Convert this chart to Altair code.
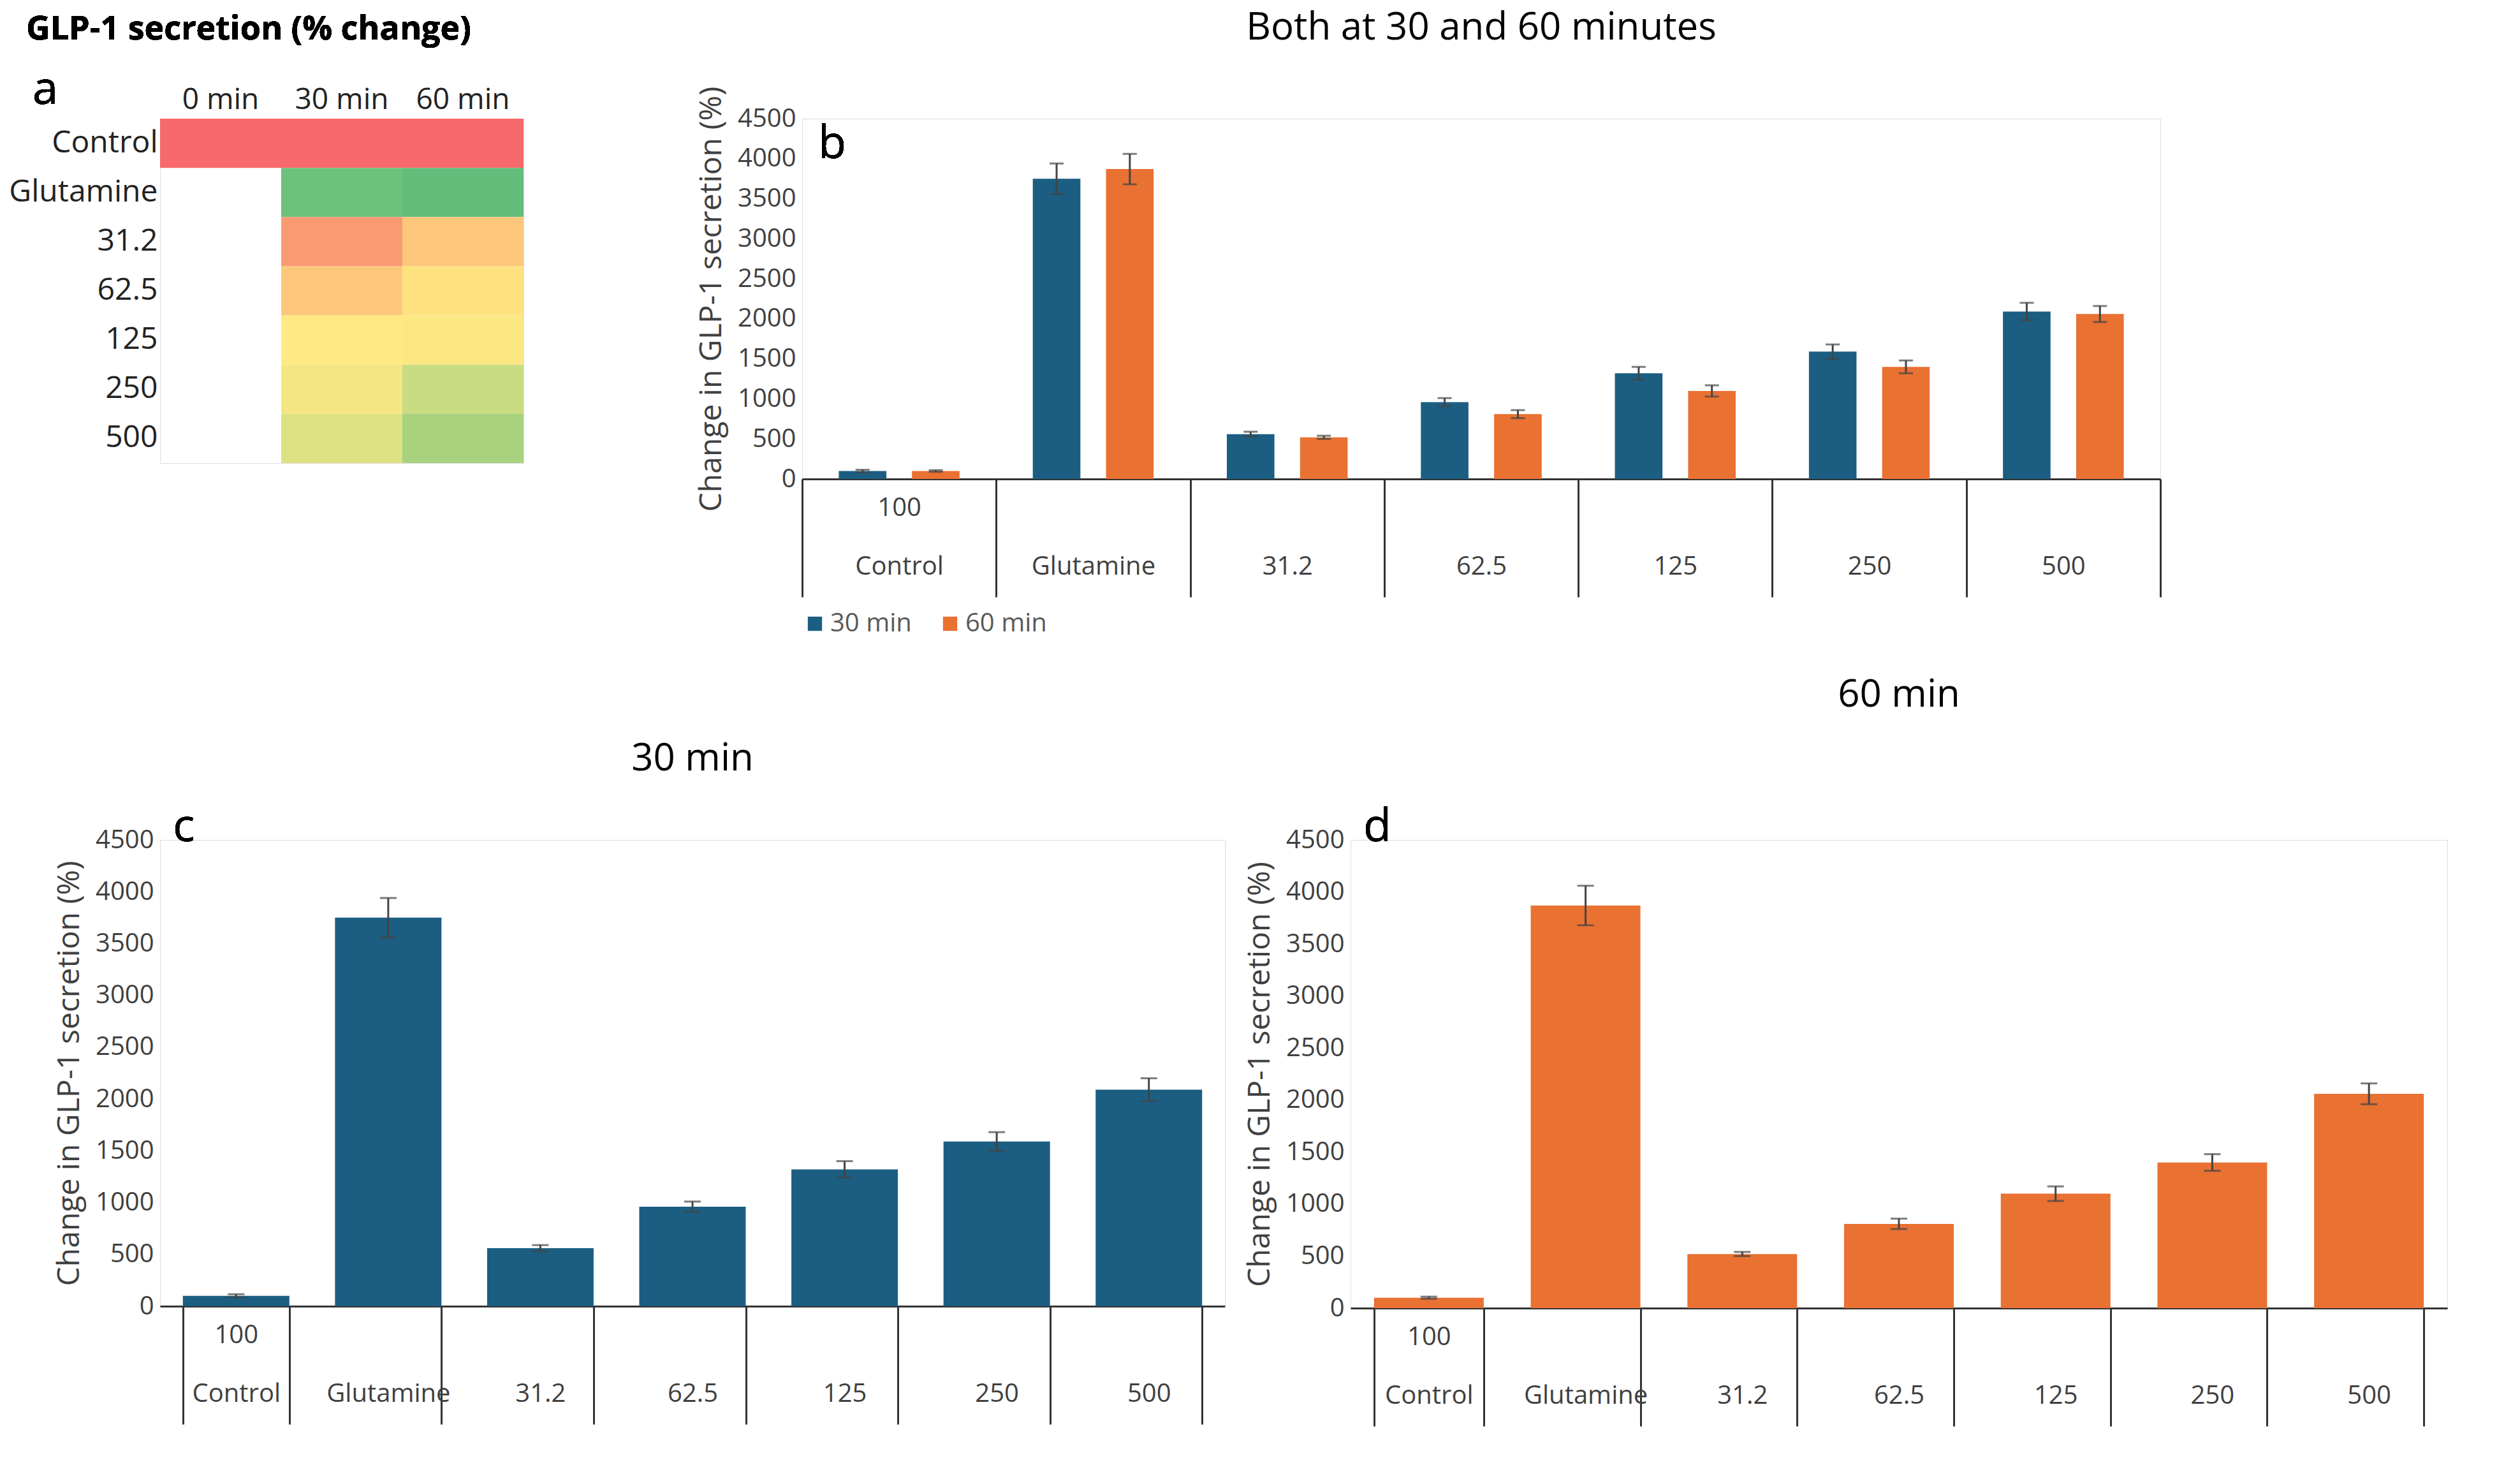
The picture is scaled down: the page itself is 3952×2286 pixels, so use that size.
import pandas as pd
import altair as alt

groups = ['Control', 'Glutamine', '31.2', '62.5', '125', '250', '500']
mean_30 = [100, 3750, 560, 960, 1320, 1590, 2090]
err_30 = [15, 190, 30, 50, 80, 90, 110]
mean_60 = [100, 3870, 520, 810, 1100, 1400, 2060]
err_60 = [10, 190, 20, 50, 70, 80, 100]

# heatmap cells (row, column, colour)
heat_rows = ['Control', 'Control', 'Control', 'Glutamine', 'Glutamine', '31.2', '31.2', '62.5', '62.5',
             '125', '125', '250', '250', '500', '500']
heat_cols = ['0 min', '30 min', '60 min', '30 min', '60 min', '30 min', '60 min', '30 min', '60 min',
             '30 min', '60 min', '30 min', '60 min', '30 min', '60 min']
heat_colors = ['#f8696b', '#f8696b', '#f8696b', '#6cc17c', '#63be7b', '#f99a73', '#fcc77b', '#fcc77b', '#fde27f',
               '#feea83', '#fbe883', '#f4e783', '#c9dc81', '#dde182', '#a9d27f']

BLUE = '#1b5e82'
ORANGE = '#e97132'
FONT = 'Open Sans'

heat = pd.DataFrame({'row': heat_rows, 'col': heat_cols, 'key': [str(i) for i in range(len(heat_rows))]})

panel_a = alt.Chart(heat).mark_rect().encode(
    alt.X('col:N', sort=['0 min', '30 min', '60 min'], title=None,
          axis=alt.Axis(orient='top', ticks=False, domain=False, labelAngle=0, labelFontSize=46,
                        labelColor='#222', labelPadding=6, labelFont=FONT)),
    alt.Y('row:N', sort=groups, title=None,
          axis=alt.Axis(ticks=False, domain=False, labelFontSize=48, labelColor='#222', labelPadding=4,
                        labelFont=FONT, labelLimit=0)),
    alt.Color('key:N', scale=alt.Scale(domain=heat['key'].tolist(), range=heat_colors), legend=None)
).properties(width=570, height=540)

a_letter = alt.Chart(heat).mark_text(text='a', fontSize=72, font=FONT, align='left').encode(
    x=alt.value(-200), y=alt.value(-45))
a_title = alt.Chart(heat).mark_text(text='GLP-1 secretion (% change)', fontSize=52, fontWeight='bold',
                                    font=FONT, align='left').encode(x=alt.value(-210), y=alt.value(-140))
panel_a = alt.layer(panel_a, a_letter, a_title)


def label_expr():
    return "datum.value == 'Control' ? ['100', 'Control'] : ['', datum.value]"


def x_axis():
    return alt.Axis(labelAngle=0, labelExpr=label_expr(), tickBand='extent', tickSize=185, tickColor='#333',
                    tickWidth=3, domainColor='#333', domainWidth=3, labelFontSize=40, labelColor='#404040',
                    labelPadding=-160, labelBaseline='top', labelLineHeight=92, labelFont=FONT,
                    labelLimit=0, title=None)


def y_axis():
    return alt.Axis(values=list(range(0, 4501, 500)), format='d', grid=False, domain=False, ticks=False,
                    labelFontSize=40, labelColor='#404040', labelFont=FONT, labelPadding=10,
                    title='Change in GLP-1 secretion (%)', titleFontSize=48, titleFontWeight='normal',
                    titleColor='#404040', titleFont=FONT, titlePadding=16)


both = pd.DataFrame({
    'group': groups * 2,
    'series': ['30 min'] * 7 + ['60 min'] * 7,
    'mean': mean_30 + mean_60,
    'err': err_30 + err_60,
})
both['lo'] = both['mean'] - both['err']
both['hi'] = both['mean'] + both['err']

yscale = alt.Scale(domain=[0, 4500])
cscale = alt.Scale(domain=['30 min', '60 min'], range=[BLUE, ORANGE])

base_b = alt.Chart(both).encode(
    alt.X('group:N', sort=groups, axis=x_axis(), scale=alt.Scale(paddingInner=0.0, paddingOuter=0)),
    alt.XOffset('series:N', scale=alt.Scale(paddingOuter=0.5, paddingInner=0.35)))
bars_b = base_b.mark_bar().encode(
    alt.Y('mean:Q', scale=yscale, axis=y_axis()),
    alt.Color('series:N', scale=cscale,
              legend=alt.Legend(orient='bottom', direction='horizontal', title=None, labelFontSize=40,
                                labelColor='#595959', symbolType='square', symbolSize=500, labelFont=FONT,
                                offset=20, columnPadding=40, symbolStrokeWidth=0)))
err_b = base_b.mark_rule(color='#444', strokeWidth=3).encode(alt.Y('lo:Q'), alt.Y2('hi:Q'))
caps_b = (base_b.mark_tick(color='#444', thickness=3, size=22).encode(alt.Y('lo:Q')) +
          base_b.mark_tick(color='#444', thickness=3, size=22).encode(alt.Y('hi:Q')))
b_letter = alt.Chart(both).mark_text(text='b', fontSize=72, font=FONT, align='left').encode(
    x=alt.value(25), y=alt.value(40))
panel_b = alt.layer(bars_b, err_b, caps_b, b_letter).properties(
    width=2130, height=565,
    title=alt.TitleParams('Both at 30 and 60 minutes', fontSize=60, fontWeight='normal', font=FONT, offset=60))


def single(means, errs, color, title, letter, w, h, title_offset):
    df = pd.DataFrame({'group': groups, 'mean': means, 'err': errs})
    df['lo'] = df['mean'] - df['err']
    df['hi'] = df['mean'] + df['err']
    base = alt.Chart(df).encode(
        alt.X('group:N', sort=groups, axis=x_axis(), scale=alt.Scale(paddingInner=0.3, paddingOuter=0.15)))
    bars = base.mark_bar(color=color).encode(alt.Y('mean:Q', scale=yscale, axis=y_axis()))
    err = base.mark_rule(color='#444', strokeWidth=3).encode(alt.Y('lo:Q'), alt.Y2('hi:Q'))
    caps = (base.mark_tick(color='#444', thickness=3, size=26).encode(alt.Y('lo:Q')) +
            base.mark_tick(color='#444', thickness=3, size=26).encode(alt.Y('hi:Q')))
    let = base.mark_text(text=letter, fontSize=72, font=FONT, align='left').encode(
        x=alt.value(20), y=alt.value(-20))
    return alt.layer(bars, err, caps, let).properties(
        width=w, height=h,
        title=alt.TitleParams(title, fontSize=60, fontWeight='normal', font=FONT, offset=title_offset))


panel_c = single(mean_30, err_30, BLUE, '30 min', 'c', 1670, 731, 40)
panel_d = single(mean_60, err_60, ORANGE, '60 min', 'd', 1720, 734, 140)

top = alt.hconcat(panel_a, panel_b, spacing=270).resolve_scale(color='independent')
bottom = alt.hconcat(panel_c, panel_d, spacing=30)

chart = (alt.vconcat(top, bottom, spacing=60)
         .resolve_scale(color='independent')
         .configure_view(strokeWidth=0)
         .configure(background='white'))
chart.save("out.html", embed_options={"renderer": "svg", "actions": False})
